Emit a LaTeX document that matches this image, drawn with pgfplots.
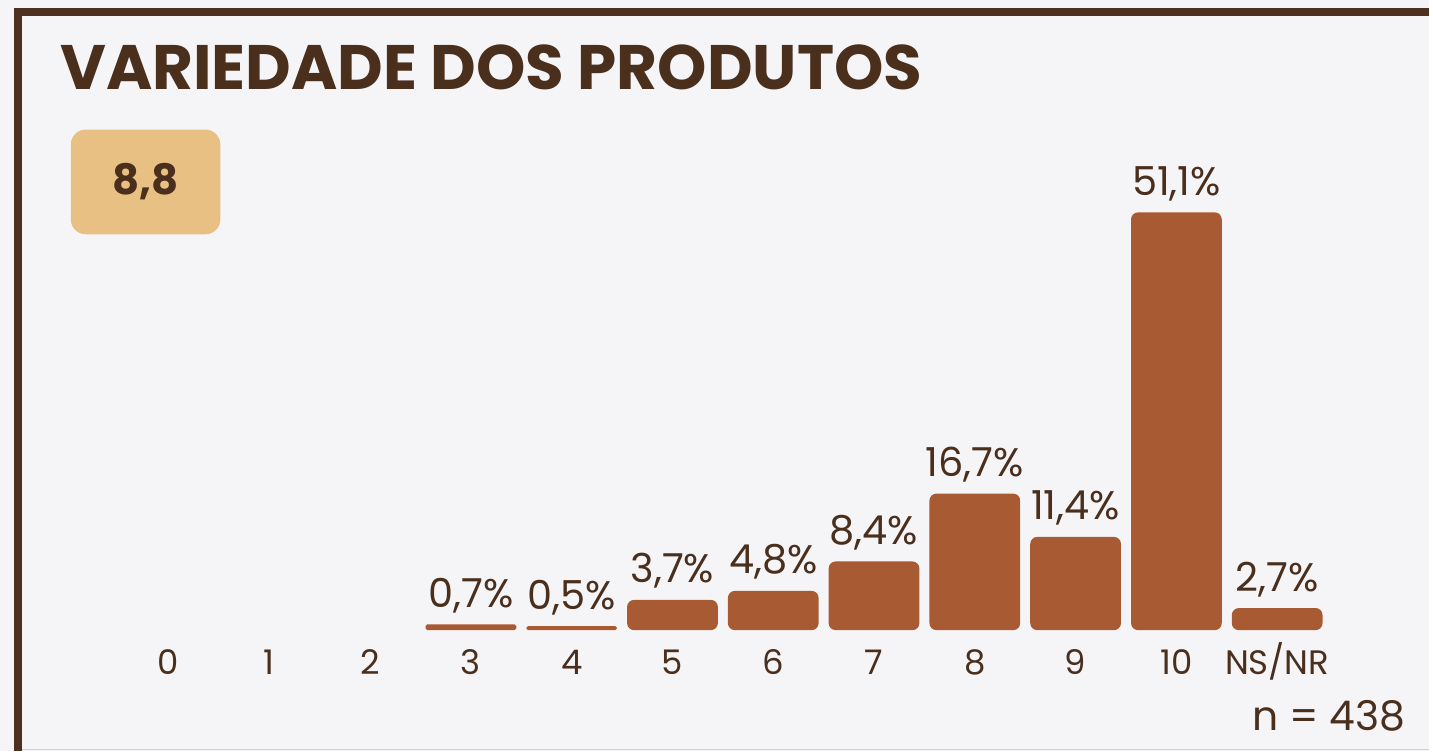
\documentclass[border=0pt]{standalone}
\usepackage{fontspec}
\setmainfont{Poppins}
\usepackage{pgfplots}
\pgfplotsset{compat=1.18}
\definecolor{bg}{HTML}{F5F5F8}
\definecolor{brd}{HTML}{4E301E}
\definecolor{txt}{HTML}{4A2F1D}
\definecolor{barc}{HTML}{A85A32}
\definecolor{boxc}{HTML}{E8C083}
\begin{document}
\begin{tikzpicture}
\fill[bg] (0pt,0pt) rectangle (716.5pt,376.5pt);
\draw[black!18, line width=0.8pt] (11pt,0.6pt) -- (716.5pt,0.6pt);
\draw[brd, line width=4.25pt] (9pt,0pt) -- (9pt,370.5pt) -- (716.5pt,370.5pt);
\node[anchor=base west, text=txt, font=\fontsize{31.5}{31.5}\selectfont\bfseries, inner sep=0pt] at (30pt,331.5pt) {VARIEDADE DOS PRODUTOS};
\fill[boxc, rounded corners=7.5pt] (35.5pt,259pt) rectangle (110.5pt,311.5pt);
\node[anchor=base, text=txt, font=\fontsize{21}{21}\selectfont\bfseries, inner sep=0pt] at (73pt,279pt) {8,8};
\node[anchor=base east, text=txt, font=\fontsize{20.5}{20.5}\selectfont, inner sep=0pt] at (705pt,10pt) {n = 438};
\begin{axis}[
  at={(59.25pt,60.5pt)}, anchor=south west,
  scale only axis, width=606.5pt, height=225.5pt,
  xmin=-0.5, xmax=11.5, ymin=0, ymax=55,
  axis line style={draw=none}, tick style={draw=none},
  ytick=\empty,
  xtick={0,1,2,3,4,5,6,7,8,9,10,11},
  xticklabels={0,1,2,3,4,5,6,7,8,9,10,NS/NR},
  xticklabel style={text=txt, font=\fontsize{17}{17}\selectfont, anchor=base, yshift=-18pt, inner sep=0pt},
  clip=false,
  /pgf/number format/assume math mode=true,
  ybar, bar width=45.5pt,
  nodes near coords={\pgfmathprintnumber[fixed,precision=1,zerofill,use comma]{\pgfplotspointmeta}\%},
  nodes near coords style={anchor=base, yshift=8.5pt, text=txt, font=\fontsize{20}{20}\selectfont, inner sep=0pt},
]
\addplot[fill=barc, draw=none, rounded corners=3.5pt, bar shift=0pt] coordinates {
(5,3.7) (6,4.8) (7,8.4) (8,16.7) (9,11.4) (10,51.1) (11,2.7)
};
\addplot[fill=barc, draw=none, rounded corners=0.9pt, bar shift=0pt] coordinates {
(3,0.7) (4,0.5)
};
\end{axis}
\end{tikzpicture}
\end{document}
